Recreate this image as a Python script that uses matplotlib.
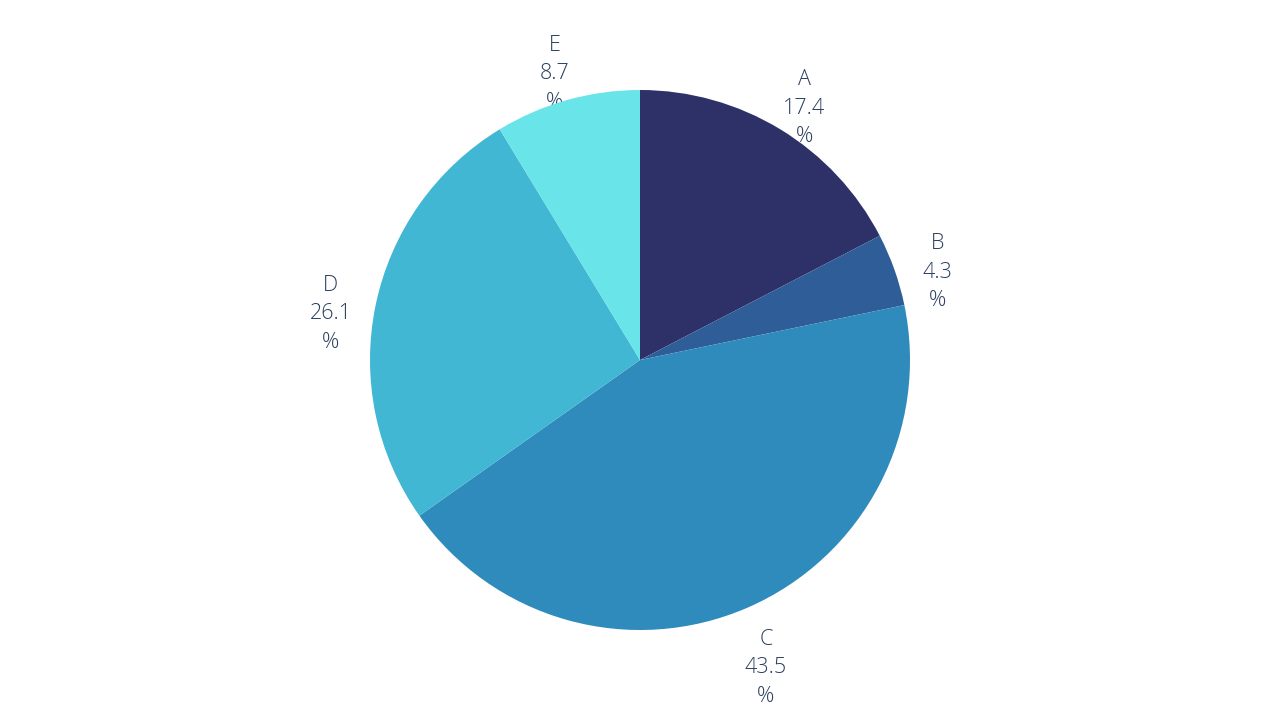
import numpy as np
import matplotlib
matplotlib.use("Agg")
import matplotlib.pyplot as plt

labels = ["A", "B", "C", "D", "E"]
values = [4, 1, 10, 6, 2]
colors = ["#2d3168", "#2e5d98", "#2e8bbb", "#42b7d4", "#69e4e8"]

fig = plt.figure(figsize=(12.8, 7.2), dpi=100)
ax = fig.add_axes([0, 0, 1, 1])
R = 1.0
px_per_unit = 270.0

wedges, _ = ax.pie(values, colors=colors, startangle=90, counterclock=False,
                   radius=R, wedgeprops=dict(linewidth=0))
for w in wedges:
    w.set_zorder(3)

ax.set_xlim(-640 / px_per_unit, 640 / px_per_unit)
ax.set_ylim(-360 / px_per_unit, 360 / px_per_unit)
ax.set_aspect("equal")
ax.axis("off")

total = float(sum(values))
for w, lab, v in zip(wedges, labels, values):
    mid = np.deg2rad((w.theta1 + w.theta2) / 2.0)
    pct = 100.0 * v / total
    d = 1.17 * R
    x, y = d * np.cos(mid), d * np.sin(mid) - 18 / px_per_unit
    ax.text(x, y, f"{lab}\n{pct:.1f}\n%", ha="center", va="center",
            fontsize=15.5, color="#2a3f5f", family=["Open Sans", "DejaVu Sans"],
            fontweight="light", linespacing=1.47, zorder=2)

fig.savefig("out.png", dpi=100, facecolor="white")
